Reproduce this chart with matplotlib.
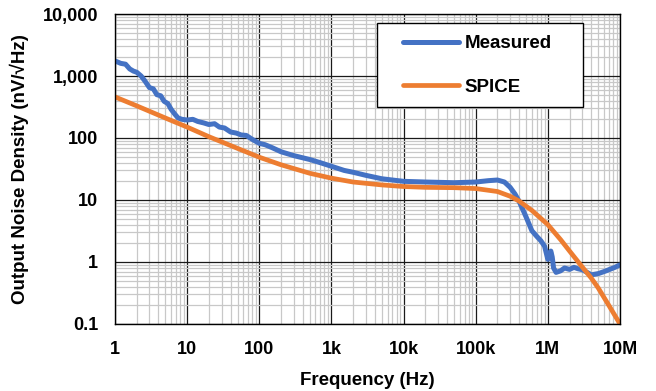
import matplotlib
matplotlib.use("Agg")
import matplotlib.pyplot as plt
from matplotlib.patches import Rectangle
from matplotlib.ticker import FixedLocator, LogLocator, NullFormatter

plt.rcParams['font.family'] = ['Liberation Sans', 'DejaVu Sans']
plt.rcParams['font.weight'] = 'bold'

# Measured noise (nV/rtHz)
meas_f = [1, 1.2, 1.4, 1.6, 1.8, 2, 2.3, 2.6, 3, 3.4, 3.8, 4.3, 4.8, 5.4, 6, 6.8, 7.5, 8.5,
          10, 12, 14, 17, 20, 24, 28, 33, 40, 48, 56, 66, 80, 100, 120, 150, 200, 300, 500,
          700, 1e3, 1.5e3, 2e3, 3e3, 5e3, 7e3, 1e4, 2e4, 5e4, 1e5, 1.5e5, 2e5, 2.5e5, 3e5,
          3.5e5, 4e5, 4.5e5, 5e5, 6e5, 7e5, 8e5, 9e5, 1e6, 1.05e6, 1.1e6, 1.15e6, 1.2e6,
          1.3e6, 1.5e6, 1.7e6, 2e6, 2.3e6, 2.6e6, 3e6, 3.5e6, 4e6, 5e6, 6e6, 7e6, 8.5e6, 1e7]
meas_v = [1750, 1600, 1550, 1300, 1200, 1150, 1000, 830, 650, 620, 500, 480, 390, 360, 290,
          240, 210, 200, 195, 200, 185, 175, 165, 170, 150, 145, 125, 120, 112, 110, 95, 82,
          78, 70, 60, 52, 45, 40, 35, 30, 28, 25, 22, 21, 20, 19.5, 19, 19.5, 20.5, 21,
          19.5, 16, 12.5, 9.5, 7, 5.3, 3.2, 2.6, 2.2, 1.8, 1.1, 1.3, 1.5, 1.2, 0.8,
          0.68, 0.72, 0.8, 0.76, 0.82, 0.78, 0.75, 0.68, 0.62, 0.65, 0.7, 0.75, 0.82, 0.9]

# SPICE simulation
spice_f = [1, 2, 5, 10, 20, 50, 100, 200, 500, 1e3, 2e3, 5e3, 1e4, 2e4, 5e4, 1e5, 2e5,
           3e5, 4e5, 6e5, 1e6, 1.5e6, 2e6, 3e6, 4e6, 5e6, 7e6, 1e7]
spice_v = [460, 330, 210, 150, 105, 68, 49, 37, 27, 22.5, 19.5, 17.5, 16.5, 16, 15.8, 15.3,
           13.7, 11.5, 9.6, 6.8, 4.0, 2.3, 1.5, 0.83, 0.55, 0.38, 0.2, 0.1]

x_ticks = [1, 10, 100, 1e3, 1e4, 1e5, 1e6, 1e7]
x_labels = ['1', '10', '100', '1k', '10k', '100k', '1M', '10M']
y_ticks = [0.1, 1, 10, 100, 1000, 10000]
y_labels = ['0.1', '1', '10', '100', '1,000', '10,000']

W, H = 656, 391
fig = plt.figure(figsize=(W / 100, H / 100), dpi=100)
ax = fig.add_axes([115 / W, 1 - 324 / H, 505 / W, 310 / H])

ax.plot(meas_f, meas_v, color='#4472C4', lw=3.6, label='Measured', solid_capstyle='round')
ax.plot(spice_f, spice_v, color='#ED7D31', lw=3.4, label='SPICE', solid_capstyle='round')

ax.set_xscale('log')
ax.set_yscale('log')
ax.set_xlim(1, 1e7)
ax.set_ylim(0.1, 10000)

ax.xaxis.set_major_locator(FixedLocator(x_ticks))
ax.set_xticklabels(x_labels)
ax.yaxis.set_major_locator(FixedLocator(y_ticks))
ax.set_yticklabels(y_labels)
ax.xaxis.set_minor_locator(LogLocator(base=10, subs=range(2, 10), numticks=20))
ax.yaxis.set_minor_locator(LogLocator(base=10, subs=range(2, 10), numticks=20))
ax.xaxis.set_minor_formatter(NullFormatter())
ax.yaxis.set_minor_formatter(NullFormatter())

ax.grid(which='minor', color='#c8c8c8', lw=0.9)
ax.grid(which='major', color='#1a1a1a', lw=0.9)
ax.set_axisbelow(True)
ax.tick_params(which='major', length=0, labelsize=13, pad=12)
ax.tick_params(which='minor', length=0)
for s in ax.spines.values():
    s.set_color('black')
    s.set_linewidth(1.0)

ax.set_xlabel('Frequency (Hz)', fontsize=13.5, fontweight='bold', labelpad=10)
ax.set_ylabel('Output Noise Density (nV/\u221aHz)', fontsize=13.5, fontweight='bold', labelpad=10)

# legend box drawn separately so its padding can match the original
fig.add_artist(Rectangle((377 / W, 1 - 107 / H), 206 / W, 84 / H, transform=fig.transFigure,
                         facecolor='white', edgecolor='black', lw=1.0, zorder=3))
leg = fig.legend(loc='upper left', bbox_to_anchor=(403 / W, 1 - 35 / H),
                 fontsize=13.5, frameon=False, handlelength=3.0, labelspacing=1.4,
                 borderpad=0, handletextpad=0.3, borderaxespad=0)
leg.set_zorder(4)
for t in leg.get_texts():
    t.set_fontweight('bold')

fig.savefig('out.png', dpi=100)
